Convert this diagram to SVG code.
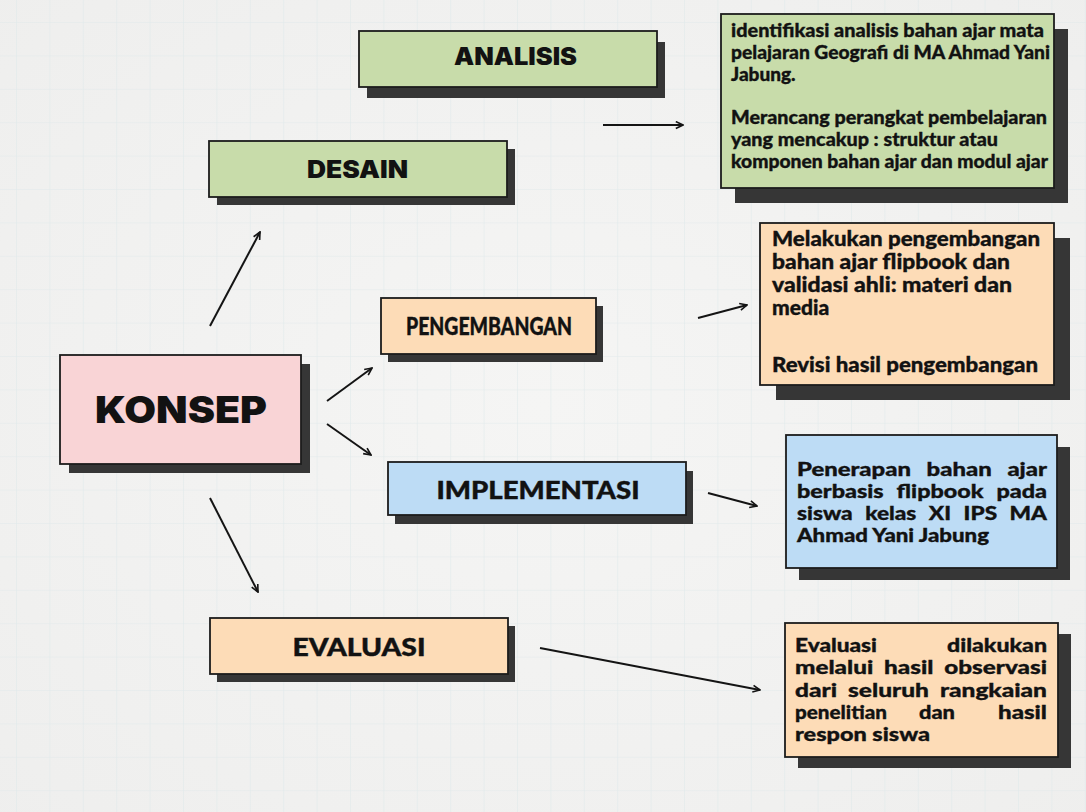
<svg xmlns="http://www.w3.org/2000/svg" width="1086" height="812" viewBox="0 0 1086 812">
<style>
.box{stroke:#1c1c1c;stroke-width:1.8}
.sh{fill:#363636}
.green{fill:#c8dcaa}
.pink{fill:#f9d4d6}
.peach{fill:#fddcb7}
.blue{fill:#bddcf5}
.t1{font-family:Inter,"Liberation Sans",sans-serif;font-weight:900;fill:#121212;text-anchor:middle}
.t2{font-family:Lato,"Liberation Sans",sans-serif;font-weight:900;fill:#121212;stroke:#121212;stroke-width:0.4;text-anchor:middle}
.b{font-family:Lato,"Liberation Sans",sans-serif;font-weight:900;fill:#121212;stroke:#121212;stroke-width:0.35}
.e{text-anchor:end}
.conn line{stroke:#141414;stroke-width:2;marker-end:url(#ah)}
</style>
<defs>
<pattern id="grid" x="16" y="22" width="33.4" height="33.4" patternUnits="userSpaceOnUse">
<path d="M0,0 H33.4 M0,0 V33.4" fill="none" stroke="#dde8ea" stroke-width="1.2"/>
</pattern>
<radialGradient id="paper" cx="0.5" cy="0.5" r="0.75">
<stop offset="0" stop-color="#f5f5f4"/>
<stop offset="1" stop-color="#eeeeed"/>
</radialGradient>
<marker id="ah" viewBox="0 0 10 10" refX="9" refY="5" markerWidth="9" markerHeight="9" markerUnits="userSpaceOnUse" orient="auto">
<path d="M1,1.2 L9,5 L1,8.8" fill="none" stroke="#141414" stroke-width="1.8"/>
</marker>
</defs>
<rect width="1086" height="812" fill="url(#paper)"/>
<rect width="1086" height="812" fill="url(#grid)" opacity="0.8"/>

<g class="conn" id="connectors">
<line x1="603" y1="125" x2="683" y2="125"/>
<line x1="210" y1="326" x2="260" y2="232"/>
<line x1="327" y1="401" x2="372" y2="368"/>
<line x1="327" y1="424" x2="371" y2="455"/>
<line x1="210" y1="498" x2="258" y2="592"/>
<line x1="698" y1="318" x2="747" y2="305"/>
<line x1="708" y1="493" x2="757" y2="506"/>
<line x1="540" y1="648" x2="760" y2="690"/>
</g>

<g id="analisis">
<rect class="sh" x="367" y="42" width="298" height="56"/>
<rect class="box green" x="359" y="31" width="298" height="56"/>
<text class="t1" x="515.5" y="65" font-size="24" textLength="123" lengthAdjust="spacingAndGlyphs">ANALISIS</text>
</g>

<g id="desain">
<rect class="sh" x="217" y="149" width="298" height="56"/>
<rect class="box green" x="209" y="141" width="298" height="56"/>
<text class="t1" x="357.5" y="178" font-size="24" textLength="101" lengthAdjust="spacingAndGlyphs">DESAIN</text>
</g>

<g id="analisis-desain-detail">
<rect class="sh" x="735" y="29" width="333" height="174"/>
<rect class="box green" x="721" y="14" width="333" height="174"/>
<text class="b" font-size="19">
<tspan x="731" y="37" textLength="313" lengthAdjust="spacingAndGlyphs">identifikasi analisis bahan ajar mata</tspan>
<tspan x="731" y="59" textLength="319" lengthAdjust="spacingAndGlyphs">pelajaran Geografi di MA Ahmad Yani</tspan>
<tspan x="731" y="81">Jabung.</tspan>
<tspan x="731" y="124" textLength="316" lengthAdjust="spacingAndGlyphs">Merancang perangkat pembelajaran</tspan>
<tspan x="731" y="146" textLength="267" lengthAdjust="spacingAndGlyphs">yang mencakup : struktur atau</tspan>
<tspan x="731" y="168" textLength="317" lengthAdjust="spacingAndGlyphs">komponen bahan ajar dan modul ajar</tspan>
</text>
</g>

<g id="konsep">
<rect class="sh" x="69" y="364" width="241" height="109"/>
<rect class="box pink" x="60" y="355" width="241" height="109"/>
<text class="t1" x="181" y="423" font-size="37" textLength="172" lengthAdjust="spacingAndGlyphs">KONSEP</text>
</g>

<g id="pengembangan">
<rect class="sh" x="388" y="306" width="215" height="56"/>
<rect class="box peach" x="381" y="298" width="215" height="56"/>
<text class="t2" x="489" y="335" font-size="24" textLength="166" lengthAdjust="spacingAndGlyphs">PENGEMBANGAN</text>
</g>

<g id="pengembangan-detail">
<rect class="sh" x="776" y="238" width="294" height="162"/>
<rect class="box peach" x="760" y="223" width="294" height="162"/>
<text class="b" font-size="21">
<tspan x="772" y="246" textLength="268" lengthAdjust="spacingAndGlyphs">Melakukan pengembangan</tspan>
<tspan x="772" y="269" textLength="238" lengthAdjust="spacingAndGlyphs">bahan ajar flipbook dan</tspan>
<tspan x="772" y="292" textLength="240" lengthAdjust="spacingAndGlyphs">validasi ahli: materi dan</tspan>
<tspan x="772" y="315">media</tspan>
<tspan x="772" y="372" textLength="266" lengthAdjust="spacingAndGlyphs">Revisi hasil pengembangan</tspan>
</text>
</g>

<g id="implementasi">
<rect class="sh" x="395" y="471" width="298" height="53"/>
<rect class="box blue" x="388" y="462" width="298" height="53"/>
<text class="t2" x="538" y="499" font-size="24" textLength="203" lengthAdjust="spacingAndGlyphs">IMPLEMENTASI</text>
</g>

<g id="implementasi-detail">
<rect class="sh" x="799" y="447" width="271" height="133"/>
<rect class="box blue" x="786" y="435" width="271" height="133"/>
<text class="b" font-size="19">
<tspan x="797" y="476" textLength="250" lengthAdjust="spacingAndGlyphs" word-spacing="8">Penerapan bahan ajar</tspan>
<tspan x="797" y="498" textLength="250" lengthAdjust="spacingAndGlyphs" word-spacing="6">berbasis flipbook pada</tspan>
<tspan x="797" y="520" textLength="250" lengthAdjust="spacingAndGlyphs" word-spacing="6">siswa kelas XI IPS MA</tspan>
<tspan x="797" y="542" textLength="192" lengthAdjust="spacingAndGlyphs">Ahmad Yani Jabung</tspan>
</text>
</g>

<g id="evaluasi">
<rect class="sh" x="217" y="626" width="298" height="56"/>
<rect class="box peach" x="210" y="618" width="298" height="56"/>
<text class="t2" x="359" y="656" font-size="24" textLength="133" lengthAdjust="spacingAndGlyphs">EVALUASI</text>
</g>

<g id="evaluasi-detail">
<rect class="sh" x="798" y="634" width="273" height="134"/>
<rect class="box peach" x="785" y="623" width="273" height="134"/>
<text class="b" font-size="19" x="795" y="652" textLength="82" lengthAdjust="spacingAndGlyphs">Evaluasi</text>
<text class="b e" font-size="19" x="1047" y="652" textLength="100" lengthAdjust="spacingAndGlyphs">dilakukan</text>
<text class="b" font-size="19" x="795" y="674" textLength="252" lengthAdjust="spacingAndGlyphs" word-spacing="4">melalui hasil observasi</text>
<text class="b" font-size="19" x="795" y="697" textLength="252" lengthAdjust="spacingAndGlyphs" word-spacing="4">dari seluruh rangkaian</text>
<text class="b" font-size="19" x="795" y="719" textLength="92" lengthAdjust="spacingAndGlyphs">penelitian</text>
<text class="b" font-size="19" x="937" y="719" text-anchor="middle" textLength="36" lengthAdjust="spacingAndGlyphs">dan</text>
<text class="b e" font-size="19" x="1047" y="719" textLength="49" lengthAdjust="spacingAndGlyphs">hasil</text>
<text class="b" font-size="19" x="795" y="741" textLength="135" lengthAdjust="spacingAndGlyphs">respon siswa</text>
</g>
</svg>
